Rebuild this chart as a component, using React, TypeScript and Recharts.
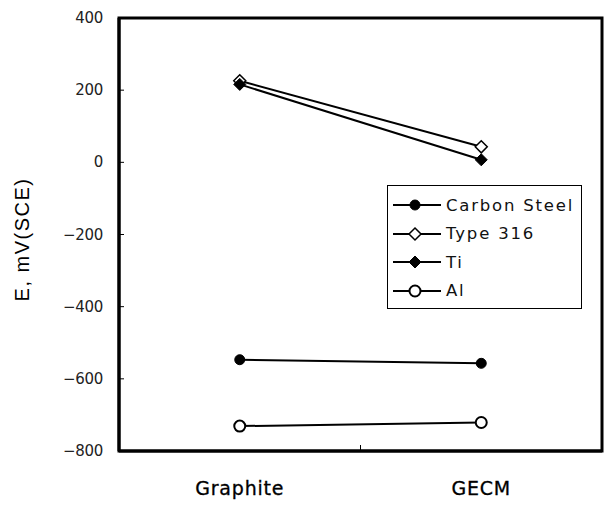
import React from 'react';
import { LineChart, Line, XAxis, YAxis, ReferenceArea } from 'recharts';

const categories = ['Graphite', 'GECM'];
const carbonSteel = [-547, -557];
const type316 = [226, 43];
const ti = [216, 7];
const al = [-731, -721];
const yTicks = [-800, -600, -400, -200, 0, 200, 400];

const FONT = '"DejaVu Sans", "Liberation Sans", Arial, sans-serif';
const LABEL_FONT = '"Liberation Sans", Arial, sans-serif';

const data = categories.map((name, i) => ({
  x: i + 0.5,
  name,
  carbonSteel: carbonSteel[i],
  type316: type316[i],
  ti: ti[i],
  al: al[i],
}));

type Shape = 'circleFill' | 'circleOpen' | 'diamondFill' | 'diamondOpen';

const series: { key: string; name: string; shape: Shape }[] = [
  { key: 'carbonSteel', name: 'Carbon Steel', shape: 'circleFill' },
  { key: 'type316', name: 'Type 316', shape: 'diamondOpen' },
  { key: 'ti', name: 'Ti', shape: 'diamondFill' },
  { key: 'al', name: 'Al', shape: 'circleOpen' },
];

const Marker = ({ cx, cy, shape }: { cx: number; cy: number; shape: Shape }) => {
  if (shape === 'circleFill') return <circle cx={cx} cy={cy} r={5} fill="#000" stroke="#000" strokeWidth={1} />;
  if (shape === 'circleOpen') return <circle cx={cx} cy={cy} r={5.5} fill="#fff" stroke="#000" strokeWidth={2} />;
  const s = 6;
  const pts = `${cx},${cy - s} ${cx + s},${cy} ${cx},${cy + s} ${cx - s},${cy}`;
  if (shape === 'diamondFill') return <polygon points={pts} fill="#000" stroke="#000" strokeWidth={1} />;
  return <polygon points={pts} fill="#fff" stroke="#000" strokeWidth={1.5} />;
};

const makeDot = (shape: Shape) => (props: any) => {
  const { cx, cy, index } = props;
  if (cx == null || cy == null) return <g key={index} />;
  return <Marker key={index} cx={cx} cy={cy} shape={shape} />;
};

const YTick = (props: any) => {
  const { x, y, payload } = props;
  const axisX = x + 16;
  return (
    <g>
      <line x1={axisX} x2={axisX + 5} y1={y} y2={y} stroke="#000" strokeWidth={1} />
      <text x={x} y={y} dy={5} textAnchor="end" fontSize={15} fill="#222" fontFamily={FONT} letterSpacing={-0.3}>
        {String(payload.value).replace('-', '\u2212')}
      </text>
    </g>
  );
};

const XTick = (props: any) => {
  const { x, y, payload } = props;
  const idx = payload.value - 0.5;
  if (Number.isInteger(payload.value)) {
    return <line x1={x} x2={x} y1={y} y2={y - 6} stroke="#000" strokeWidth={1} />;
  }
  return (
    <text
      x={x}
      y={y}
      dy={44}
      textAnchor="middle"
      fontSize={19}
      fill="#000"
      stroke="#000"
      strokeWidth={0.3}
      fontFamily={FONT}
      letterSpacing={0.8}
    >
      {categories[idx]}
    </text>
  );
};

const LegendBox = () => (
  <div
    style={{
      position: 'absolute',
      left: 387,
      top: 185,
      width: 195,
      height: 124,
      boxSizing: 'border-box',
      border: '1px solid #000',
      background: '#fff',
      padding: '5px 0 0 5px',
      fontFamily: FONT,
    }}
  >
    {series.map((s) => (
      <div key={s.key} style={{ display: 'flex', alignItems: 'center', height: 28.5 }}>
        <svg width={50} height={16}>
          <line x1={0} x2={48} y1={8} y2={8} stroke="#000" strokeWidth={2} />
          <Marker cx={22} cy={8} shape={s.shape} />
        </svg>
        <span style={{ fontSize: 16.5, color: '#111', letterSpacing: 1.8, marginLeft: 3 }}>{s.name}</span>
      </div>
    ))}
  </div>
);

const YLabel = (props: any) => {
  const { viewBox } = props;
  const cy = viewBox.y + viewBox.height / 2 + 5;
  return (
    <text
      x={22}
      y={cy}
      transform={`rotate(-90, 22, ${cy})`}
      textAnchor="middle"
      dominantBaseline="central"
      fontSize={20}
      fill="#000"
      fontFamily={LABEL_FONT}
      letterSpacing={1.5}
    >
      E, mV(SCE)
    </text>
  );
};

export default function App() {
  return (
    <div style={{ position: 'absolute', left: 0, top: 0, width: 604, height: 508, background: '#fff' }}>
      <LineChart width={604} height={508} data={data} margin={{ top: 18, right: 2, bottom: 17, left: 59 }}>
        <ReferenceArea x1={0} x2={2} y1={-800} y2={400} fill="none" stroke="#000" strokeWidth={3} ifOverflow="visible" />
        <XAxis
          dataKey="x"
          type="number"
          domain={[0, 2]}
          ticks={[0.5, 1, 1.5]}
          height={40}
          tickSize={0}
          tickMargin={0}
          axisLine={{ stroke: '#000', strokeWidth: 3 }}
          tickLine={false}
          tick={<XTick />}
          interval={0}
        />
        <YAxis
          type="number"
          domain={[-800, 400]}
          ticks={yTicks}
          width={60}
          tickSize={0}
          tickMargin={16}
          axisLine={{ stroke: '#000', strokeWidth: 3 }}
          tickLine={false}
          tick={<YTick />}
          interval={0}
          label={<YLabel />}
        />
        {series.map((s) => (
          <Line
            key={s.key}
            dataKey={s.key}
            name={s.name}
            stroke="#000"
            strokeWidth={2}
            dot={makeDot(s.shape)}
            activeDot={false}
            isAnimationActive={false}
          />
        ))}
      </LineChart>
      <LegendBox />
    </div>
  );
}
